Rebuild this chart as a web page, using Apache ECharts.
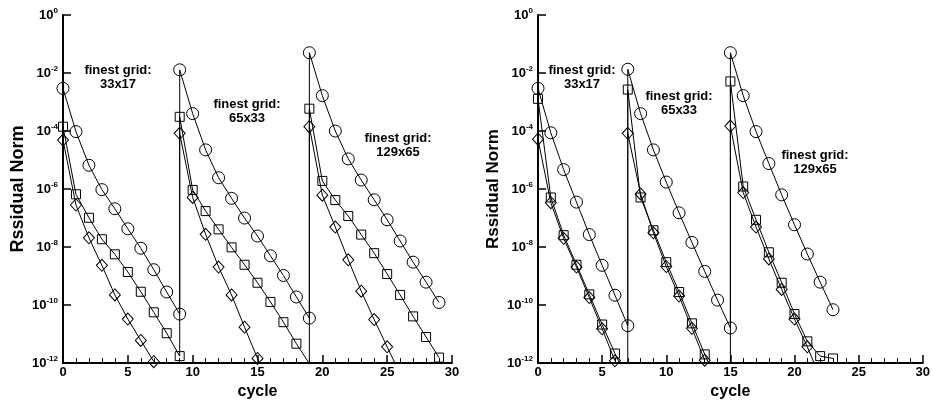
<!DOCTYPE html>
<html>
<head>
<meta charset="utf-8">
<script src="https://cdn.jsdelivr.net/npm/echarts@6/dist/echarts.min.js"></script>
<style>html,body{margin:0;padding:0;background:#fff}#c{width:933px;height:405px}</style>
</head>
<body>
<div id="c"></div>
<script>
// Data: [cycle, log10(residual norm)]; null = break in the line
const leftCircle = [[0,-2.53],[1,-4.02],[2,-5.18],[3,-6.02],[4,-6.68],[5,-7.37],[6,-8.04],[7,-8.78],[8,-9.55],[9,-10.31],
  [9,-1.89],[10,-3.40],[11,-4.65],[12,-5.61],[13,-6.32],[14,-7.00],[15,-7.62],[16,-8.30],[17,-8.98],[18,-9.72],[19,-10.45],
  [19,-1.30],[20,-2.78],[21,-4.00],[22,-4.96],[23,-5.69],[24,-6.37],[25,-7.06],[26,-7.79],[27,-8.52],[28,-9.21],[29,-9.91]];
const leftSquare = [[0,-3.85],[1,-6.18],[2,-6.99],[3,-7.73],[4,-8.25],[5,-8.86],[6,-9.54],[7,-10.25],[8,-10.97],[9,-11.76],
  [9,-3.51],[10,-6.03],[11,-6.76],[12,-7.39],[13,-8.01],[14,-8.61],[15,-9.23],[16,-9.89],[17,-10.59],[18,-11.33],[19,-12.02],
  [19,-3.23],[20,-5.72],[21,-6.38],[22,-6.93],[23,-7.57],[24,-8.21],[25,-8.93],[26,-9.65],[27,-10.39],[28,-11.10],[29,-11.81]];
const leftDiamond = [[0,-4.31],[1,-6.55],[2,-7.68],[3,-8.63],[4,-9.65],[5,-10.48],[6,-11.22],[7,-11.95],null,
  [9,-4.08],[10,-6.29],[11,-7.56],[12,-8.69],[13,-9.65],[14,-10.76],[15,-11.84],[16,-12.90],null,
  [19,-3.85],[20,-6.21],[21,-7.31],[22,-8.44],[23,-9.52],[24,-10.50],[25,-11.44],[26,-12.37]];

const rightCircle = [[0,-2.53],[1,-4.06],[2,-5.33],[3,-6.45],[4,-7.57],[5,-8.63],[6,-9.66],[7,-10.71],
  [7,-1.87],[8,-3.40],[9,-4.65],[10,-5.76],[11,-6.82],[12,-7.84],[13,-8.84],[14,-9.83],[15,-10.79],
  [15,-1.30],[16,-2.78],[17,-4.02],[18,-5.12],[19,-6.20],[20,-7.23],[21,-8.24],[22,-9.21],[23,-10.16]];
const rightSquare = [[0,-2.89],[1,-6.29],[2,-7.59],[3,-8.61],[4,-9.63],[5,-10.67],[6,-11.67],[7,-12.60],
  [7,-2.57],[8,-6.29],[9,-7.42],[10,-8.52],[11,-9.55],[12,-10.63],[13,-11.70],[14,-12.70],[15,-13.70],
  [15,-2.29],[16,-5.91],[17,-7.06],[18,-8.18],[19,-9.23],[20,-10.31],[21,-11.25],[22,-11.76],[23,-11.84]];
const rightDiamond = [[0,-4.28],[1,-6.47],[2,-7.70],[3,-8.69],[4,-9.74],[5,-10.82],[6,-11.92],null,
  [7,-4.08],[8,-6.17],[9,-7.51],[10,-8.67],[11,-9.69],[12,-10.80],[13,-11.90],null,
  [15,-3.83],[16,-6.12],[17,-7.31],[18,-8.41],[19,-9.46],[20,-10.48],[21,-11.44],[22,-12.50]];

const xTicks = [0, 5, 10, 15, 20, 25, 30];
const yAxisTitle = 'Rssidual Norm';
const xAxisTitle = 'cycle';
const leftNotes = ['finest grid:\n33x17', 'finest grid:\n65x33', 'finest grid:\n129x65'];
const rightNotes = ['finest grid:\n33x17', 'finest grid:\n65x33', 'finest grid:\n129x65'];

const FONT = '"Liberation Sans", Arial, sans-serif';
const chart = echarts.init(document.getElementById('c'), null, {renderer: 'canvas'});

function toData(arr) {
  return arr.map(p => p ? [p[0], Math.pow(10, p[1])] : '-');
}
function mkSeries(arr, idx, symbol, size) {
  return {
    type: 'line', xAxisIndex: idx, yAxisIndex: idx, data: toData(arr),
    symbol: symbol, symbolSize: size, showAllSymbol: true, clip: true,
    connectNulls: false, animation: false, silent: true,
    lineStyle: {color: '#000', width: 1},
    itemStyle: {color: 'rgba(0,0,0,0)', borderColor: '#000', borderWidth: 1}
  };
}
function xAxisCfg(idx) {
  return {
    gridIndex: idx, type: 'value', min: 0, max: 30, interval: 5,
    name: xAxisTitle, nameLocation: 'middle', nameGap: 16,
    nameTextStyle: {fontFamily: FONT, fontWeight: 'bold', fontSize: 16, color: '#000'},
    axisLine: {show: true, onZero: false, lineStyle: {color: '#000', width: 2}},
    axisTick: {show: true, inside: true, length: 8, lineStyle: {color: '#000', width: 1.5}},
    minorTick: {show: true, splitNumber: 5, length: 5, lineStyle: {color: '#000', width: 1}},
    splitLine: {show: false}, minorSplitLine: {show: false},
    axisLabel: {fontFamily: FONT, fontWeight: 'bold', fontSize: 13, color: '#000', margin: 3,
      formatter: v => xTicks.indexOf(v) >= 0 ? String(v) : ''}
  };
}
function yAxisCfg(idx, nameSize) {
  return {
    gridIndex: idx, type: 'log', logBase: 10, min: 1e-12, max: 1, interval: 2,
    name: yAxisTitle, nameLocation: 'middle', nameGap: 36, nameRotate: 90,
    nameTextStyle: {fontFamily: FONT, fontWeight: 'bold', fontSize: nameSize, color: '#000'},
    axisLine: {show: true, onZero: false, lineStyle: {color: '#000', width: 2}},
    axisTick: {show: true, inside: true, length: 8, lineStyle: {color: '#000', width: 1.5}},
    splitLine: {show: false},
    axisLabel: {
      margin: 5, color: '#000',
      formatter: v => '{b|10}{s|' + Math.round(Math.log10(v)) + '}',
      rich: {
        b: {fontFamily: FONT, fontWeight: 'bold', fontSize: 13, color: '#000', lineHeight: 16},
        s: {fontFamily: FONT, fontWeight: 'bold', fontSize: 8, color: '#000', verticalAlign: 'top', lineHeight: 16, padding: [0, 0, 6, 0]}
      }
    }
  };
}
function note(text, x, y) {
  return {type: 'text', left: x, top: y, silent: true,
    style: {text: text, x: 0, y: 0, fill: '#000', font: 'bold 13px ' + FONT, align: 'center', verticalAlign: 'middle', lineHeight: 14}};
}
function noteC(text, cx, cy) {
  return {type: 'text', x: cx, y: cy, silent: true,
    style: {text: text, fill: '#000', font: 'bold 13px ' + FONT, align: 'center', verticalAlign: 'middle', lineHeight: 14}};
}

chart.setOption({
  backgroundColor: '#fff',
  animation: false,
  grid: [
    {left: 63, right: 481, top: 15, bottom: 37},
    {left: 538, right: 6, top: 15, bottom: 37}
  ],
  xAxis: [xAxisCfg(0), xAxisCfg(1)],
  yAxis: [yAxisCfg(0, 18), yAxisCfg(1, 17)],
  series: [
    mkSeries(leftCircle, 0, 'circle', 12),
    mkSeries(leftSquare, 0, 'rect', 9),
    mkSeries(leftDiamond, 0, 'diamond', [11, 12]),
    mkSeries(rightCircle, 1, 'circle', 12),
    mkSeries(rightSquare, 1, 'rect', 9),
    mkSeries(rightDiamond, 1, 'diamond', [11, 12])
  ],
  graphic: [
    noteC(leftNotes[0], 118, 77),
    noteC(leftNotes[1], 247, 111),
    noteC(leftNotes[2], 398, 145),
    noteC(rightNotes[0], 582, 77),
    noteC(rightNotes[1], 679, 103),
    noteC(rightNotes[2], 815, 162)
  ]
});
</script>
</body>
</html>
